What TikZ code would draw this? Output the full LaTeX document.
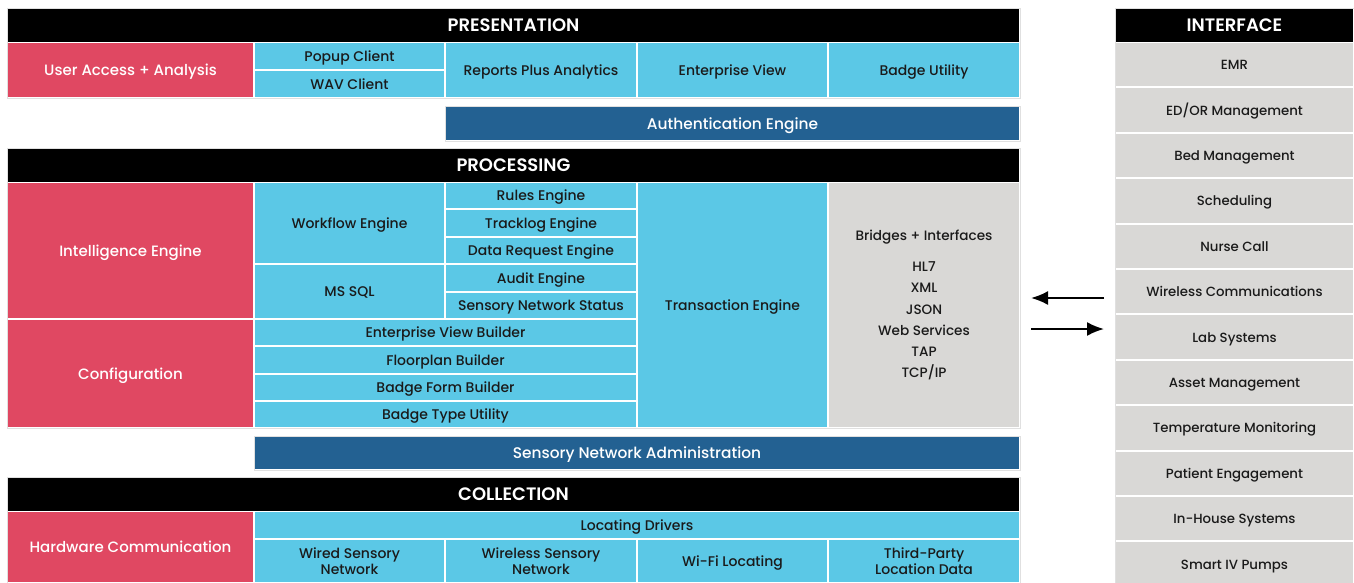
\documentclass[tikz,border=0pt]{standalone}
\usepackage{fontspec}
\setmainfont{Poppins}[UprightFont={* Medium}, BoldFont={* SemiBold}]
\usepackage{xcolor}
\usepackage{tikz}
\usetikzlibrary{arrows.meta}

\definecolor{hotred}{HTML}{E04862}
\definecolor{skycyan}{HTML}{5BC8E6}
\definecolor{deepnavy}{HTML}{236192}
\definecolor{lightgrey}{HTML}{D9D8D6}
\definecolor{inkblack}{HTML}{1A1A1A}

\tikzset{
	cell/.style={anchor=north west, inner sep=0pt, outer sep=0pt, align=center,
		text height=10.3pt, text depth=0pt, font=\fontsize{14}{16}\selectfont},
	hdr/.style={cell, fill=black, text=white, text height=12.8pt, font=\fontsize{18}{18}\selectfont\bfseries},
	redcell/.style={cell, fill=hotred, text=white, text height=11pt, font=\fontsize{15}{17}\selectfont},
	cyancell/.style={cell, fill=skycyan, text=inkblack},
	navycell/.style={cell, fill=deepnavy, text=white, text height=11.2pt, font=\fontsize{15.4}{17}\selectfont},
	greycell/.style={cell, fill=lightgrey, text=inkblack, text height=9.8pt, font=\fontsize{13.3}{16}\selectfont},
	multi/.style={text height=, text depth=},
	frame/.style={draw=black!12, fill=white, line width=0.8pt},
	flow/.style={line width=2pt, -{Latex[length=17pt,width=14pt]}}
}

\begin{document}
	\begin{tikzpicture}[x=1pt,y=-1pt]
		\useasboundingbox[fill=white] (0,0) rectangle (1354,582);
		% Draw frames
		\draw[frame] (7,8) rectangle (1020,98);
		\draw[frame] (445,106) rectangle (1020,141);
		\draw[frame] (7,148) rectangle (1020,428);
		\draw[frame] (254,436) rectangle (1020,470);
		\draw[frame] (7,477) rectangle (1020,600);
		\draw[frame] (1115,8) rectangle (1360,600);

		% Presentation
		\node[hdr, minimum width=1011pt, minimum height=33pt] (pres) at (8,9) {PRESENTATION};
		\node[redcell, minimum width=245pt, minimum height=54pt] (useraccess) at (8,43) {User Access + Analysis};
		\node[cyancell, minimum width=189pt, minimum height=26pt] (popup) at (255,43) {Popup Client};
		\node[cyancell, minimum width=189pt, minimum height=26pt] (wav) at (255,71) {WAV Client};
		\node[cyancell, minimum width=190pt, minimum height=54pt] (reports) at (446,43) {Reports Plus Analytics};
		\node[cyancell, minimum width=189pt, minimum height=54pt] (entview) at (638,43) {Enterprise View};
		\node[cyancell, minimum width=190pt, minimum height=54pt] (badge) at (829,43) {Badge Utility};
		\node[navycell, minimum width=573pt, minimum height=33pt] (auth) at (446,107) {Authentication Engine};

		% Processing
		\node[hdr, minimum width=1011pt, minimum height=33pt] (proc) at (8,149) {PROCESSING};
		\node[redcell, minimum width=245pt, minimum height=135pt] (intel) at (8,183) {Intelligence Engine};
		\node[redcell, minimum width=245pt, minimum height=107pt] (config) at (8,320) {Configuration};
		\node[cyancell, minimum width=189pt, minimum height=80pt] (workflow) at (255,183) {Workflow Engine};
		\node[cyancell, minimum width=189pt, minimum height=53pt] (mssql) at (255,265) {MS SQL};
		\node[cyancell, minimum width=190pt, minimum height=25pt] (rules) at (446,183) {Rules Engine};
		\node[cyancell, minimum width=190pt, minimum height=26pt] (tracklog) at (446,210) {Tracklog Engine};
		\node[cyancell, minimum width=190pt, minimum height=25pt] (datareq) at (446,238) {Data Request Engine};
		\node[cyancell, minimum width=190pt, minimum height=26pt] (audit) at (446,265) {Audit Engine};
		\node[cyancell, minimum width=190pt, minimum height=25pt] (snstatus) at (446,293) {Sensory Network Status};
		\node[cyancell, minimum width=381pt, minimum height=25pt] (evbuilder) at (255,320) {Enterprise View Builder};
		\node[cyancell, minimum width=381pt, minimum height=26pt] (floorplan) at (255,347) {Floorplan Builder};
		\node[cyancell, minimum width=381pt, minimum height=25pt] (badgeform) at (255,375) {Badge Form Builder};
		\node[cyancell, minimum width=381pt, minimum height=25pt] (badgetype) at (255,402) {Badge Type Utility};
		\node[cyancell, minimum width=189pt, minimum height=244pt] (trans) at (638,183) {Transaction Engine};
		\node[greycell, multi, minimum width=190pt, minimum height=244pt,
			font=\fontsize{13.6}{21.3}\selectfont] (bridges) at (829,183)
			{Bridges + Interfaces\\[10pt]HL7\\XML\\JSON\\Web Services\\TAP\\TCP/IP};
		\node[navycell, minimum width=764pt, minimum height=32pt] (snadmin) at (255,437) {Sensory Network Administration};

		% Collection
		\node[hdr, minimum width=1011pt, minimum height=33pt] (coll) at (8,478) {COLLECTION};
		\node[redcell, minimum width=245pt, minimum height=70pt] (hardware) at (8,512) {Hardware Communication};
		\node[cyancell, minimum width=764pt, minimum height=26pt] (locdrivers) at (255,512) {Locating Drivers};
		\node[cyancell, multi, minimum width=189pt, minimum height=42pt] (wired) at (255,540) {Wired Sensory\\Network};
		\node[cyancell, multi, minimum width=190pt, minimum height=42pt] (wireless) at (446,540) {Wireless Sensory\\Network};
		\node[cyancell, minimum width=189pt, minimum height=42pt] (wifi) at (638,540) {Wi-Fi Locating};
		\node[cyancell, multi, minimum width=190pt, minimum height=42pt] (thirdparty) at (829,540) {Third-Party\\Location Data};

		% Interface column
		\node[hdr, minimum width=237pt, minimum height=33pt] (iface) at (1116,9) {INTERFACE};
		\foreach \lbl [count=\i from 0] in {EMR,ED/OR Management,Bed Management,Scheduling,Nurse Call,
			Wireless Communications,Lab Systems,Asset Management,Temperature Monitoring,
			Patient Engagement,In-House Systems,Smart IV Pumps}
		\node[greycell, minimum width=237pt, minimum height=43.4pt] (if\i) at (1116,43+45.4*\i) {\lbl};

		% Arrows
		\coordinate (inR) at (1104,298);
		\coordinate (inL) at (1031,298);
		\coordinate (outL) at (1031,329);
		\coordinate (outR) at (1104,329);
		\draw[flow] (inR) -- (inL);
		\draw[flow] (outL) -- (outR);

	\end{tikzpicture}
\end{document}
